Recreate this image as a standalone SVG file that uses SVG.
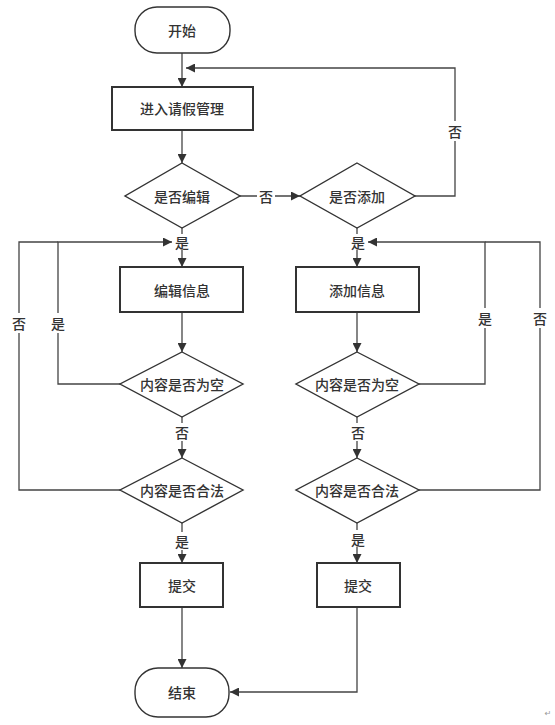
<svg xmlns="http://www.w3.org/2000/svg" width="555" height="725" viewBox="0 0 555 725">
<style>
.sh{fill:#fff;stroke:#333;stroke-width:1.4}
.bx{fill:#fff;stroke:#333;stroke-width:2}
.t{font-family:"Noto Sans CJK SC","Noto Sans",sans-serif;font-size:14px;font-weight:500;fill:#333;text-anchor:middle;dominant-baseline:central}
.ln{fill:none;stroke:#444;stroke-width:1.3}
.lb{fill:#fff}
</style>
<defs>
<marker id="ah" viewBox="0 0 10 10" refX="10" refY="5" markerWidth="10" markerHeight="9" markerUnits="userSpaceOnUse" orient="auto">
<path d="M0,0 L10,5 L0,10 z" fill="#333"/>
</marker>
</defs>
<rect width="555" height="725" fill="#fff"/>
<g id="connectors">
<path class="ln" d="M182,53 V87" marker-end="url(#ah)"/>
<path class="ln" d="M182,130 V163" marker-end="url(#ah)"/>
<path class="ln" d="M240,196 H300" marker-end="url(#ah)"/>
<path class="ln" d="M415,196 H455 V68 H186" marker-end="url(#ah)"/>
<path class="ln" d="M182,228 V234"/>
<path class="ln" d="M182,250 V267" marker-end="url(#ah)"/>
<path class="ln" d="M357,228 V234"/>
<path class="ln" d="M357,250 V267" marker-end="url(#ah)"/>
<path class="ln" d="M182,312 V352" marker-end="url(#ah)"/>
<path class="ln" d="M357,312 V352" marker-end="url(#ah)"/>
<path class="ln" d="M120,384 H58 V242 H172" marker-end="url(#ah)"/>
<path class="ln" d="M120,490 H19 V242 H58"/>
<path class="ln" d="M419,384 H485 V242 H368" marker-end="url(#ah)"/>
<path class="ln" d="M419,490 H540 V242 H485"/>
<path class="ln" d="M182,417 V423"/>
<path class="ln" d="M182,441 V458" marker-end="url(#ah)"/>
<path class="ln" d="M357,417 V423"/>
<path class="ln" d="M357,441 V458" marker-end="url(#ah)"/>
<path class="ln" d="M182,523 V532"/>
<path class="ln" d="M182,550 V563" marker-end="url(#ah)"/>
<path class="ln" d="M357,523 V530"/>
<path class="ln" d="M357,547 V563" marker-end="url(#ah)"/>
<path class="ln" d="M182,607 V668" marker-end="url(#ah)"/>
<path class="ln" d="M357,607 V692 H230" marker-end="url(#ah)"/>
</g>
<g id="labels">
<rect class="lb" x="446" y="121" width="18" height="20"/><text class="t" x="455" y="131">否</text>
<rect class="lb" x="257" y="187" width="18" height="18"/><text class="t" x="266" y="196">否</text>
<text class="t" x="182" y="242">是</text>
<text class="t" x="358" y="242">是</text>
<rect class="lb" x="10" y="313" width="18" height="20"/><text class="t" x="19" y="323">否</text>
<rect class="lb" x="49" y="313" width="18" height="20"/><text class="t" x="58" y="323">是</text>
<rect class="lb" x="476" y="308" width="18" height="20"/><text class="t" x="485" y="318">是</text>
<rect class="lb" x="531" y="308" width="18" height="20"/><text class="t" x="540" y="318">否</text>
<text class="t" x="182" y="432">否</text>
<text class="t" x="358" y="432">否</text>
<text class="t" x="182" y="541">是</text>
<text class="t" x="358" y="539">是</text>
</g>
<g id="start"><rect class="sh" x="135" y="7" width="95" height="46" rx="22"/><text class="t" x="182" y="30">开始</text></g>
<g id="enter"><rect class="bx" x="112" y="87" width="141" height="43"/><text class="t" x="182" y="108">进入请假管理</text></g>
<g id="isEdit"><polygon class="sh" points="182,163 240,196 182,228 125,196"/><text class="t" x="182" y="196">是否编辑</text></g>
<g id="isAdd"><polygon class="sh" points="357,163 415,196 357,228 300,196"/><text class="t" x="357" y="196">是否添加</text></g>
<g id="editInfo"><rect class="bx" x="120" y="267" width="123" height="45"/><text class="t" x="182" y="290">编辑信息</text></g>
<g id="addInfo"><rect class="bx" x="296" y="267" width="123" height="45"/><text class="t" x="357" y="290">添加信息</text></g>
<g id="emptyL"><polygon class="sh" points="182,352 243,384 182,417 120,384"/><text class="t" x="182" y="384">内容是否为空</text></g>
<g id="emptyR"><polygon class="sh" points="357,352 419,384 357,417 296,384"/><text class="t" x="357" y="384">内容是否为空</text></g>
<g id="validL"><polygon class="sh" points="182,458 243,490 182,523 120,490"/><text class="t" x="182" y="490">内容是否合法</text></g>
<g id="validR"><polygon class="sh" points="357,458 419,490 357,523 296,490"/><text class="t" x="357" y="490">内容是否合法</text></g>
<g id="submitL"><rect class="bx" x="140" y="563" width="83" height="44"/><text class="t" x="182" y="585">提交</text></g>
<g id="submitR"><rect class="bx" x="317" y="563" width="83" height="44"/><text class="t" x="358" y="585">提交</text></g>
<g id="end"><rect class="sh" x="135" y="668" width="94" height="49" rx="23"/><text class="t" x="182" y="692">结束</text></g>
<text x="548" y="716" font-family="DejaVu Sans,sans-serif" font-size="8" fill="#999" text-anchor="middle">↵</text>
</svg>
